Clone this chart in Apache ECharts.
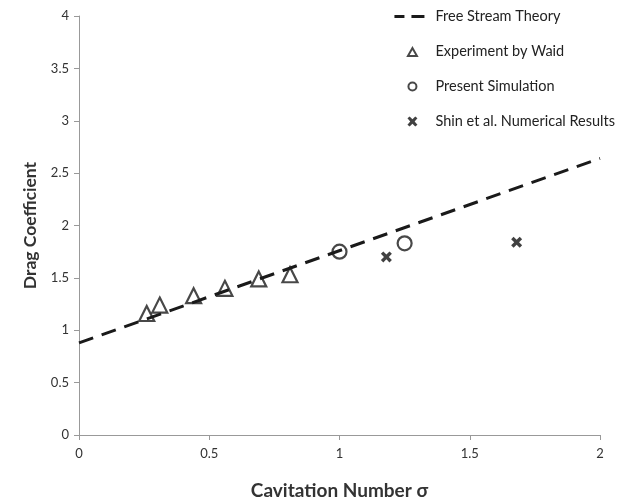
<!DOCTYPE html>
<html>
<head>
<meta charset="utf-8">
<script src="https://cdn.jsdelivr.net/npm/echarts@6/dist/echarts.min.js"></script>
<style>
  html, body { margin: 0; padding: 0; background: #fff; }
  #chart { width: 630px; height: 500px; }
</style>
</head>
<body>
<div id="chart"></div>
<script>
// data
var theoryLine = [[0, 0.88], [2, 2.64]];
var waidExp = [[0.26, 1.16], [0.31, 1.24], [0.44, 1.33], [0.56, 1.40], [0.69, 1.49], [0.81, 1.53]];
var presentSim = [[1.0, 1.75], [1.25, 1.83]];
var shinNum = [[1.18, 1.70], [1.68, 1.84]];

var crossPath = 'path://M0,2.2 L2.2,0 L5,2.8 L7.8,0 L10,2.2 L7.2,5 L10,7.8 L7.8,10 L5,7.2 L2.2,10 L0,7.8 L2.8,5 Z';
// legend icons, padded with bare moves so they all share one 36x11 box
var pad = ' M0,0 M36,11';
var dashIcon = 'path://M0,4 L10,4 L10,7 L0,7 Z M17,4 L30,4 L30,7 L17,7 Z' + pad;
var triIcon = 'path://M13.5,10 L18,2 L22.5,10 Z' + pad;
var circIcon = 'path://M14,5.5 A4,4 0 1 1 22,5.5 A4,4 0 1 1 14,5.5 Z' + pad;
var crossIcon = 'path://M13,2.2 L15.2,0.5 L18,3.3 L20.8,0.5 L23,2.2 L20.2,5.5 L23,8.8 L20.8,10.5 L18,7.7 L15.2,10.5 L13,8.8 L15.8,5.5 Z' + pad;
var font = 'Lato, "Open Sans", sans-serif';

var myChart = echarts.init(document.getElementById('chart'));

var option = {
    animation: false,
    textStyle: { fontFamily: font },
    grid: { left: 79, right: 30, top: 16, bottom: 65, outerBoundsMode: 'none' },
    legend: {
        orient: 'vertical',
        right: 10,
        top: 4,
        itemGap: 20,
        itemWidth: 36,
        itemHeight: 11,
        textStyle: { fontSize: 14.5, color: '#222', fontFamily: font },
        data: [
            { name: 'Free Stream Theory', icon: dashIcon },
            { name: 'Experiment by Waid', icon: triIcon },
            { name: 'Present Simulation', icon: circIcon },
            { name: 'Shin et al. Numerical Results', icon: crossIcon }
        ]
    },
    xAxis: {
        type: 'value',
        min: 0, max: 2, interval: 0.5,
        name: 'Cavitation Number σ',
        nameLocation: 'middle',
        nameGap: 46,
        nameTextStyle: { fontSize: 19, fontWeight: 'bold', color: '#333' },
        axisLine: { lineStyle: { color: '#999' } },
        axisTick: { show: true, length: 5, lineStyle: { color: '#999' } },
        axisLabel: { fontSize: 13, color: '#333', margin: 12 },
        splitLine: { show: false }
    },
    yAxis: {
        type: 'value',
        min: 0, max: 4, interval: 0.5,
        name: 'Drag Coefficient',
        nameLocation: 'middle',
        nameGap: 40,
        nameTextStyle: { fontSize: 17.5, fontWeight: 'bold', color: '#333' },
        axisLine: { show: true, lineStyle: { color: '#999' } },
        axisTick: { show: true, length: 5, lineStyle: { color: '#999' } },
        axisLabel: { fontSize: 13, color: '#333', margin: 10 },
        splitLine: { show: false }
    },
    series: [
        {
            name: 'Free Stream Theory',
            type: 'line',
            data: theoryLine,
            symbol: 'none',
            lineStyle: { color: '#1a1a1a', width: 3, type: [15, 9] },
            itemStyle: { color: '#1a1a1a' }
        },
        {
            name: 'Experiment by Waid',
            type: 'scatter',
            data: waidExp,
            symbol: 'triangle',
            symbolSize: 15,
            itemStyle: { color: 'rgba(0,0,0,0)', borderColor: '#1a1a1a', borderWidth: 2.2 }
        },
        {
            name: 'Present Simulation',
            type: 'scatter',
            data: presentSim,
            symbol: 'circle',
            symbolSize: 14,
            itemStyle: { color: 'rgba(0,0,0,0)', borderColor: '#1a1a1a', borderWidth: 2.2 }
        },
        {
            name: 'Shin et al. Numerical Results',
            type: 'scatter',
            data: shinNum,
            symbol: crossPath,
            symbolSize: 11,
            itemStyle: { color: '#111' }
        }
    ]
};

myChart.setOption(option);
</script>
</body>
</html>
